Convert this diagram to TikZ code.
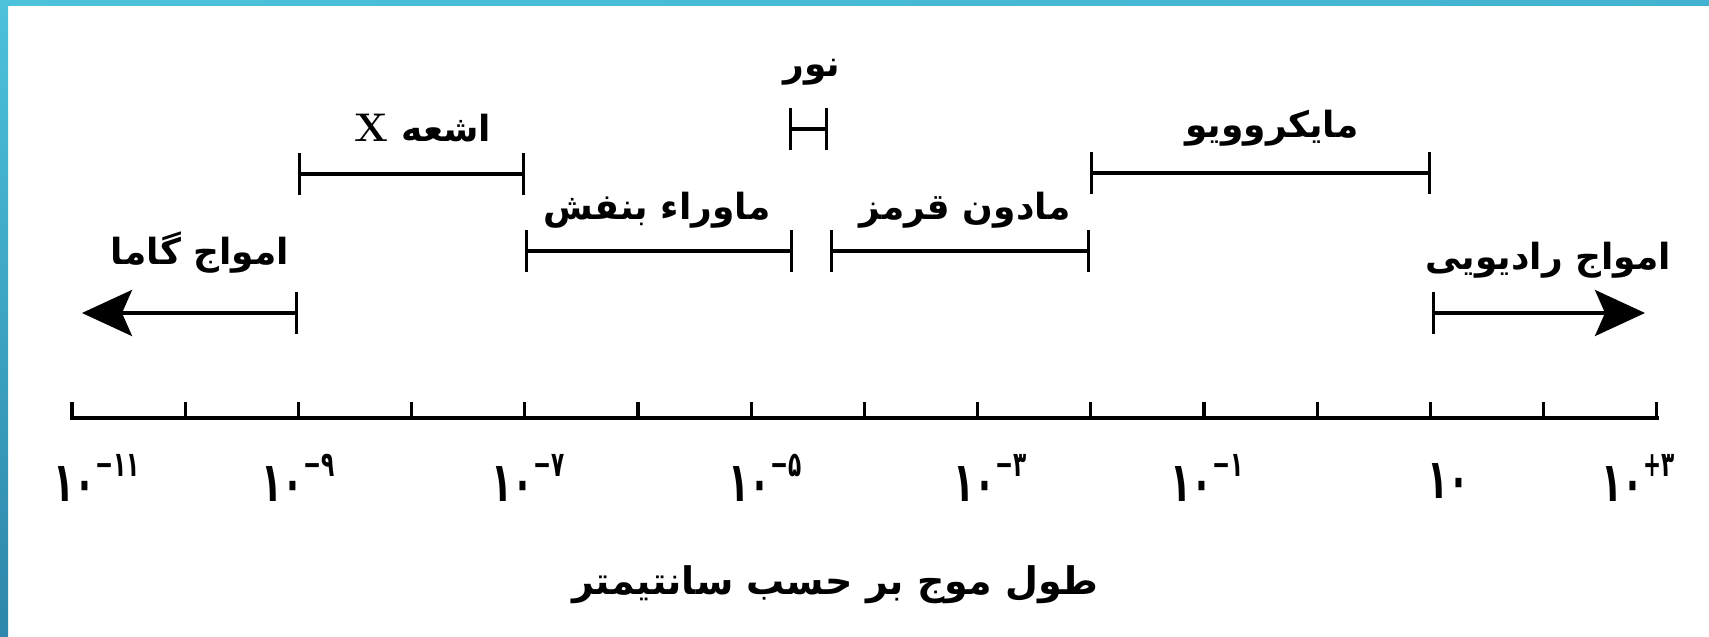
\documentclass[tikz,border=0pt]{standalone}
\usepackage{fontspec}
\usetikzlibrary{arrows.meta}
\newfontfamily\fa[Script=Arabic]{DejaVu Sans}
\newfontfamily\digitfont{DejaVu Sans}
\TeXXeTstate=1
\definecolor{bandA}{HTML}{4CC2DB}
\definecolor{bandB}{HTML}{43B2D0}
\definecolor{bandC}{HTML}{2D86AB}
\tikzset{
  rangebar/.style={line width=1.8pt, {Bar[width=21pt,line width=1.6pt]}-{Bar[width=21pt,line width=1.6pt]}},
  arrowbar/.style={line width=1.8pt, {Bar[width=21pt,line width=1.6pt]}-{Stealth[length=25pt,width=23pt,inset=5pt]}},
  axisline/.style={line width=2.2pt, line cap=rect},
  tickline/.style={line width=1.6pt},
  lbl/.style={font=\fa\bfseries\fontsize{18}{22}\selectfont, inner sep=0pt},
  numlbl/.style={font=\digitfont\bfseries\fontsize{19}{24}\selectfont, inner sep=0pt},
  titlelbl/.style={font=\fa\bfseries\fontsize{19}{24}\selectfont, inner sep=0pt},
}
\newcommand{\pwten}[1]{\scalebox{0.9}[1.45]{۱۰\raisebox{0.45em}{\fontsize{12}{14}\selectfont #1}}}
\begin{document}
\begin{tikzpicture}[x=0.5pt,y=-0.5pt]
\useasboundingbox (0,0) rectangle (1709,637);
\fill[white] (0,0) rectangle (1709,637);
% frame bands
\shade[left color=bandA, right color=bandB] (0,0) rectangle (1709,5);
\shade[top color=bandA, bottom color=bandC] (0,0) rectangle (8,637);

% axis
\foreach \i in {0,...,14} {
  \coordinate (t\i) at ({72+113.2*\i},418);
}
\draw[axisline] (t0) -- (t14);
\foreach \i in {0,...,14} {
  \draw[tickline] (t\i) -- ++(0,-16);
}

% ranges
\coordinate (g1) at (298,313);
\coordinate (g2) at (82,313);
\draw[arrowbar] (g1) -- (g2);
\node[lbl] (gl) at (200,253) {\beginR امواج گاما\endR};

\coordinate (x1) at (298,174);
\coordinate (x2) at (525,174);
\draw[rangebar] (x1) -- (x2);
\node[lbl] (xl) at (423,128) {\beginR اشعه \beginL{\rmfamily\bfseries\fontsize{20}{22}\selectfont X}\endL\endR};

\coordinate (u1) at (525,251);
\coordinate (u2) at (793,251);
\draw[rangebar] (u1) -- (u2);
\node[lbl] (ul) at (657,210) {\beginR ماوراء بنفش\endR};

\coordinate (l1) at (789,129);
\coordinate (l2) at (828,129);
\draw[rangebar] (l1) -- (l2);
\node[lbl] (ll) at (812,72) {\beginR نور\endR};

\coordinate (i1) at (830,251);
\coordinate (i2) at (1090,251);
\draw[rangebar] (i1) -- (i2);
\node[lbl] (il) at (965,210) {\beginR مادون قرمز\endR};

\coordinate (m1) at (1090,173);
\coordinate (m2) at (1431,173);
\draw[rangebar] (m1) -- (m2);
\node[lbl] (ml) at (1272,128) {\beginR مایکروویو\endR};

\coordinate (r1) at (1432,313);
\coordinate (r2) at (1645,313);
\draw[arrowbar] (r1) -- (r2);
\node[lbl] (rl) at (1548,260) {\beginR امواج رادیویی\endR};

% numbers
\node[numlbl] (n0) at (97,478) {\pwten{−۱۱}};
\node[numlbl] (n1) at (298,478) {\pwten{−۹}};
\node[numlbl] (n2) at (528,478) {\pwten{−۷}};
\node[numlbl] (n3) at (765,478) {\pwten{−۵}};
\node[numlbl] (n4) at (990,478) {\pwten{−۳}};
\node[numlbl] (n5) at (1207,478) {\pwten{−۱}};
\node[numlbl] (n6) at (1448,481) {\scalebox{0.9}[1.45]{۱۰}};
\node[numlbl] (n7) at (1638,478) {\pwten{+۳}};

\node[titlelbl] (tt) at (835,585) {\beginR طول موج بر حسب سانتیمتر\endR};
\end{tikzpicture}
\end{document}
